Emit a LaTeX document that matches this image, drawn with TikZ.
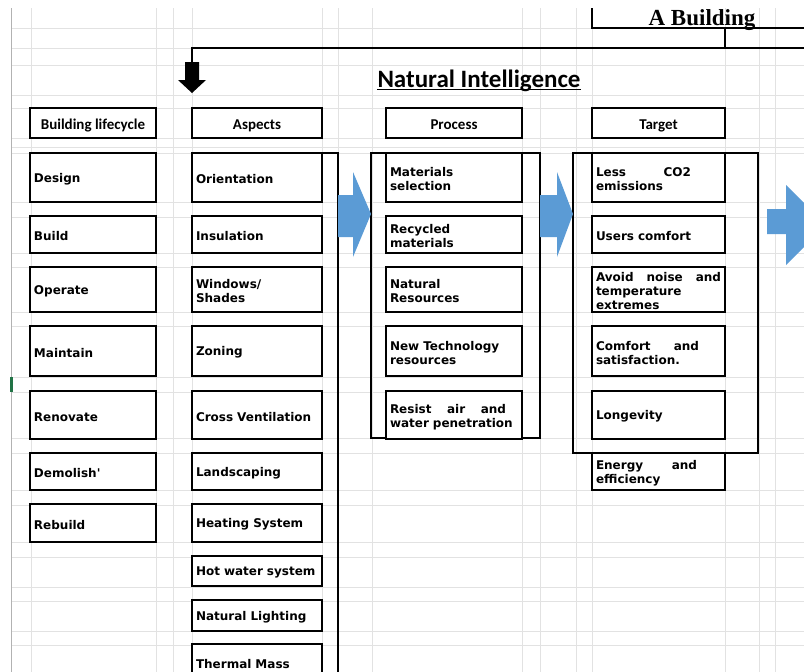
\documentclass[tikz,border=0pt]{standalone}
\usepackage{fontspec}
\usepackage{tikz}
\usetikzlibrary{positioning}

\newfontfamily\cellfont{DejaVu Sans}
\newfontfamily\headfont{Carlito}
\newfontfamily\titlefont{Liberation Serif}
\newcommand{\jline}[2][\hsize]{\makebox[#1][s]{\spaceskip=0.3em plus 1fil\relax #2}}
\definecolor{arrowblue}{RGB}{91,155,213}
\definecolor{gridgray}{RGB}{226,226,226}
\definecolor{markgreen}{RGB}{33,115,70}

\begin{document}
\begin{tikzpicture}[x=1pt, y=-1pt, node distance=14pt,
    gridline/.style={gridgray, line width=0.9pt},
    frame/.style={line width=1.6pt},
    cell/.style={draw, fill=white, line width=1.6pt, outer sep=0pt, inner xsep=4pt, inner ysep=1pt, align=left,
        font=\cellfont\bfseries\fontsize{12}{14}\selectfont, execute at begin node={\rule{0pt}{12.5pt}}},
    lifecell/.style={cell, text width=118pt},
    aspcell/.style={cell, text width=122pt},
    proccell/.style={cell, text width=128pt},
    targcell/.style={cell, text width=125pt},
    headcell/.style={draw, fill=white, line width=1.6pt, outer sep=0pt, minimum height=30pt, inner sep=0pt,
        text height=12pt, text depth=0pt, font=\headfont\bfseries\fontsize{15}{17}\selectfont}]
\useasboundingbox (0,0) rectangle (804,672);
\clip (0,0) rectangle (804,672);

% Sheet grid
\foreach \gx in {31,156,173,192,322,338,372,522,540,576,592,725,759,775}
    \draw[gridline] (\gx,8) -- (\gx,672);
\foreach \gy in {28,48,65,95,108,138,147,153,202,217,253,267,312,326,377,392,438,453,490,505,542,557,587,601,631,645}
    \draw[gridline] (11,\gy) -- (804,\gy);
\draw[gray!60, line width=1.5pt] (11.5,8) -- (11.5,672);
\fill[markgreen] (10,377) rectangle (13,392);

% Title
\node[font=\titlefont\bfseries\fontsize{23}{25}\selectfont, anchor=base, inner sep=0pt] (bldg) at (702,25) {A Building};
\draw[frame] (592,8) -- (592,28) -- (810,28);
\coordinate (split) at (725,28);
\coordinate (drop) at (192,63);
\draw[frame] (split) -- (725,48);
\draw[frame] (810,48) -- (192,48) -- (drop);
\fill (185,62) -- (199,62) -- (199,80) -- (206,80) -- (192,93) -- (178,80) -- (185,80) -- cycle;

\node[font=\headfont\bfseries\fontsize{25}{27}\selectfont, anchor=base, inner sep=0pt] (natint) at (479,87) {Natural Intelligence};
\draw[line width=1.6pt] ([yshift=-2.5pt]natint.base west) -- ([yshift=-2.5pt]natint.base east);

% Headers
\node[headcell, minimum width=126pt, anchor=north west] (lifehead) at (30,108) {Building lifecycle};
\node[headcell, minimum width=130pt, right=36pt of lifehead] (asphead) {Aspects};
\node[headcell, minimum width=136pt, right=64pt of asphead] (prochead) {Process};
\node[headcell, minimum width=133pt, right=70pt of prochead] (targhead) {Target};

% Frames
\draw[frame] (322,153) -- (338,153) -- (338,700);
\draw[frame] (371,153) rectangle (540,438);
\draw[frame] (573,153) rectangle (758,453);

% Building lifecycle
\node[lifecell, minimum height=49pt, anchor=north west] (design) at (30,153) {Design};
\node[lifecell, minimum height=37pt, below=of design] (build) {Build};
\node[lifecell, minimum height=45pt, below=of build] (operate) {Operate};
\node[lifecell, minimum height=50pt, below=of operate] (maintain) {Maintain};
\node[lifecell, minimum height=48pt, below=15pt of maintain] (renovate) {Renovate};
\node[lifecell, minimum height=37pt, below=of renovate] (demolish) {Demolish'};
\node[lifecell, minimum height=38pt, below=of demolish] (rebuild) {Rebuild};

% Aspects
\node[aspcell, minimum height=49pt, right=36pt of design] (orient) {Orientation};
\node[aspcell, minimum height=37pt, right=36pt of build] (insul) {Insulation};
\node[aspcell, minimum height=45pt, right=36pt of operate] (windows) {Windows/\\Shades};
\node[aspcell, minimum height=50pt, right=36pt of maintain] (zoning) {Zoning};
\node[aspcell, minimum height=48pt, right=36pt of renovate] (crossvent) {Cross Ventilation};
\node[aspcell, minimum height=37pt, right=36pt of demolish] (landsc) {Landscaping};
\node[aspcell, minimum height=38pt, right=36pt of rebuild] (heating) {Heating System};
\node[aspcell, minimum height=30pt, below=of heating] (hotwater) {Hot water system};
\node[aspcell, minimum height=31pt, below=of hotwater] (natlight) {Natural Lighting};
\node[aspcell, minimum height=36pt, below=13pt of natlight] (thermal) {Thermal Mass};

% Process
\node[proccell, minimum height=49pt, right=64pt of orient] (matsel) {Materials\\selection};
\node[proccell, minimum height=37pt, right=64pt of insul] (recyc) {Recycled\\materials};
\node[proccell, minimum height=45pt, right=64pt of windows] (natres) {Natural\\Resources};
\node[proccell, minimum height=50pt, right=64pt of zoning] (newtech) {New Technology\\resources};
\node[proccell, minimum height=48pt, right=64pt of crossvent] (resist) {\jline[116pt]{Resist air and}\\water penetration};

% Target
\node[targcell, minimum height=49pt, right=70pt of matsel] (lessco) {\jline[95pt]{Less CO2}\\emissions};
\node[targcell, minimum height=37pt, right=70pt of recyc] (users) {Users comfort};
\node[targcell, minimum height=45pt, right=70pt of natres] (noise) {\jline{Avoid noise and}\\temperature\\extremes};
\node[targcell, minimum height=50pt, right=70pt of newtech] (satis) {\jline[103pt]{Comfort and}\\satisfaction.};
\node[targcell, minimum height=48pt, right=70pt of resist] (longev) {Longevity};
\node[targcell, minimum height=37pt, below=of longev] (energy) {\jline[101pt]{Energy and}\\efficiency};

% Arrows
\fill[arrowblue] (338,195) -- (353,195) -- (353,172) -- (371,214) -- (353,257) -- (353,237) -- (338,237) -- cycle;
\fill[arrowblue] (540,195) -- (557,195) -- (557,172) -- (573,214) -- (557,257) -- (557,237) -- (540,237) -- cycle;
\fill[arrowblue] (767,209) -- (786,209) -- (786,185) -- (826,225) -- (786,265) -- (786,234) -- (767,234) -- cycle;
\end{tikzpicture}
\end{document}
